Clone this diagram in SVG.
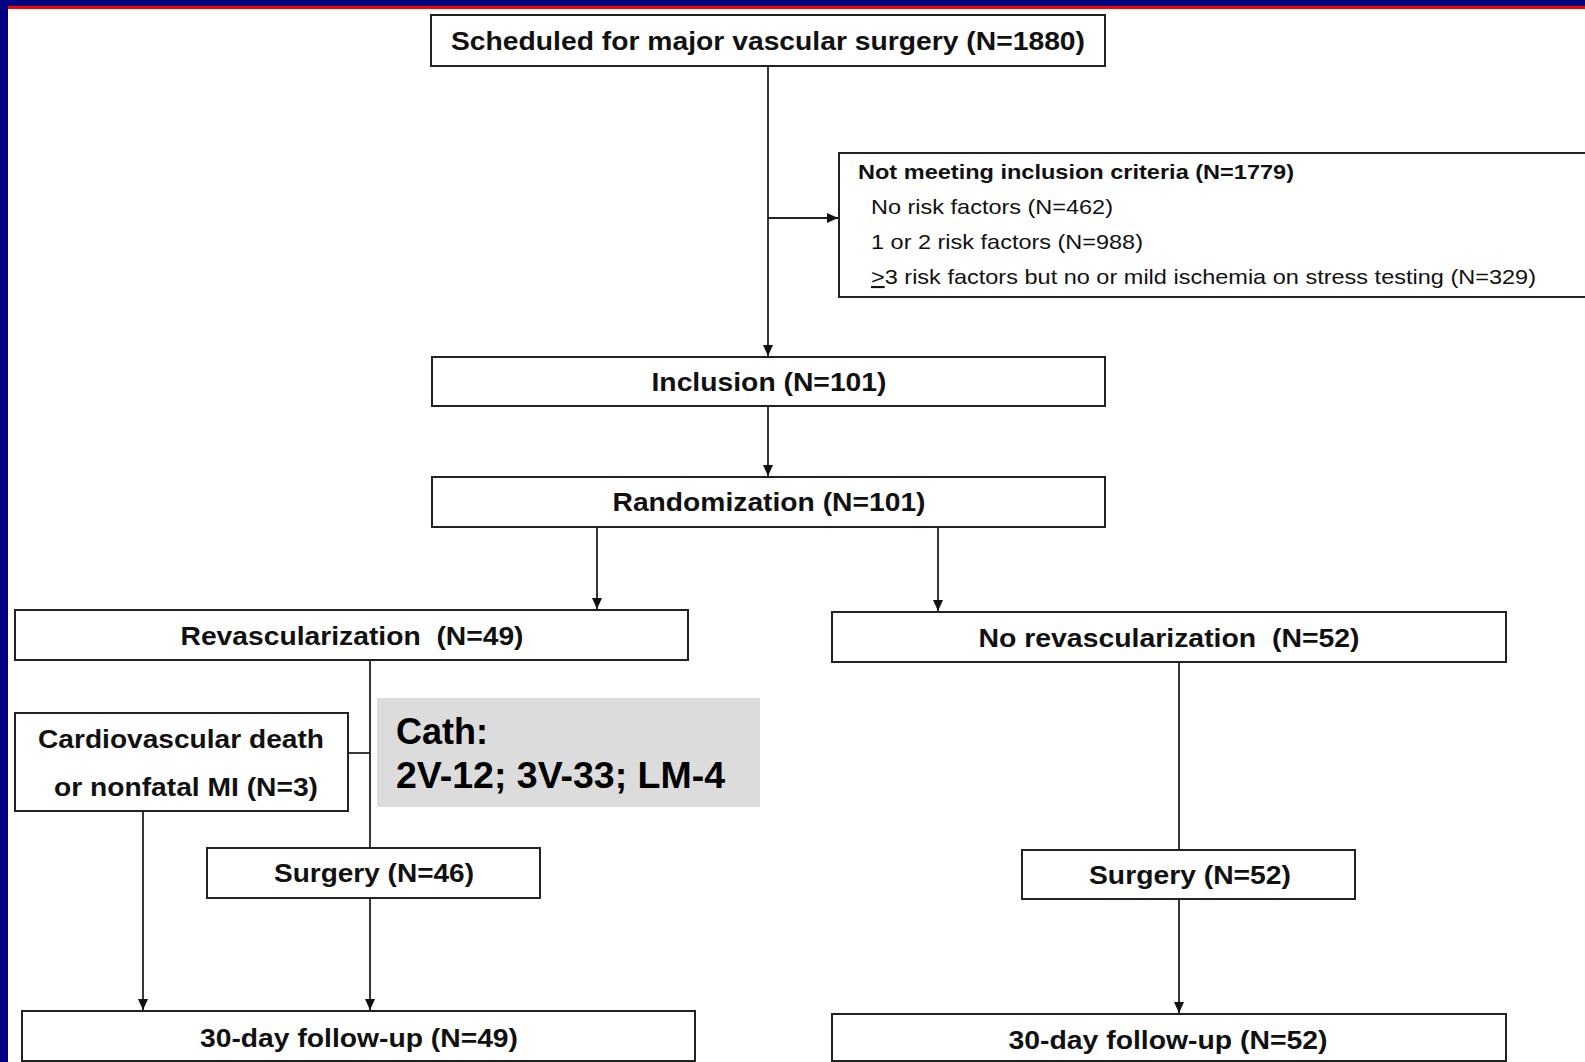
<svg xmlns="http://www.w3.org/2000/svg" width="1585" height="1062" viewBox="0 0 1585 1062">
<style>
.box{fill:#fff;stroke:#222;stroke-width:2}
.t{font-family:"Liberation Sans",Arial,sans-serif;font-weight:bold;font-size:26px;fill:#111;text-anchor:middle}
.s{font-family:"Liberation Sans",Arial,sans-serif;font-size:21px;fill:#111}
.sb{font-weight:bold}
.cath{font-family:"Liberation Sans",Arial,sans-serif;font-weight:bold;font-size:36px;fill:#000}
.ln{stroke:#222;stroke-width:1.8;fill:none}
.arr{marker-end:url(#ah)}
</style>
<defs>
<marker id="ah" viewBox="0 0 12 12" refX="12" refY="6" markerWidth="12" markerHeight="11" markerUnits="userSpaceOnUse" orient="auto">
<path d="M0,0.5 L12,6 L0,11.5 z" fill="#111"/>
</marker>
</defs>
<rect x="0" y="0" width="1585" height="1062" fill="#fff"/>
<rect x="0" y="0" width="1585" height="6" fill="#000080"/>
<rect x="0" y="0" width="8" height="1062" fill="#000080"/>
<rect x="8" y="6" width="1577" height="3" fill="#ff0000"/>

<g id="connectors">
<line class="ln arr" x1="768" y1="66" x2="768" y2="356"/>
<line class="ln arr" x1="768" y1="218" x2="838" y2="218"/>
<line class="ln arr" x1="768" y1="406" x2="768" y2="476"/>
<line class="ln arr" x1="597" y1="527" x2="597" y2="609"/>
<line class="ln arr" x1="938" y1="527" x2="938" y2="611"/>
<line class="ln" x1="370" y1="660" x2="370" y2="848"/>
<line class="ln" x1="348" y1="753" x2="370" y2="753"/>
<line class="ln arr" x1="143" y1="811" x2="143" y2="1010"/>
<line class="ln arr" x1="370" y1="898" x2="370" y2="1010"/>
<line class="ln" x1="1179" y1="662" x2="1179" y2="850"/>
<line class="ln arr" x1="1179" y1="899" x2="1179" y2="1013"/>
</g>

<g id="scheduled">
<rect class="box" x="431" y="15" width="674" height="51"/>
<text class="t" x="768" y="50" textLength="634" lengthAdjust="spacingAndGlyphs">Scheduled for major vascular surgery (N=1880)</text>
</g>

<g id="not-meeting">
<rect class="box" x="839" y="153" width="760" height="144"/>
<text class="s sb" x="858" y="179" textLength="436" lengthAdjust="spacingAndGlyphs">Not meeting inclusion criteria (N=1779)</text>
<text class="s" x="871" y="214" textLength="242" lengthAdjust="spacingAndGlyphs">No risk factors (N=462)</text>
<text class="s" x="871" y="249" textLength="272" lengthAdjust="spacingAndGlyphs">1 or 2 risk factors (N=988)</text>
<text class="s" x="871" y="284" textLength="665" lengthAdjust="spacingAndGlyphs"><tspan text-decoration="underline">&gt;</tspan>3 risk factors but no or mild ischemia on stress testing (N=329)</text>
</g>

<g id="inclusion">
<rect class="box" x="432" y="357" width="673" height="49"/>
<text class="t" x="769" y="391" textLength="235" lengthAdjust="spacingAndGlyphs">Inclusion (N=101)</text>
</g>

<g id="randomization">
<rect class="box" x="432" y="477" width="673" height="50"/>
<text class="t" x="769" y="511" textLength="313" lengthAdjust="spacingAndGlyphs">Randomization (N=101)</text>
</g>

<g id="revasc">
<rect class="box" x="15" y="610" width="673" height="50"/>
<text class="t" x="352" y="645" textLength="343" lengthAdjust="spacingAndGlyphs">Revascularization&#160; (N=49)</text>
</g>

<g id="no-revasc">
<rect class="box" x="832" y="612" width="674" height="50"/>
<text class="t" x="1169" y="647" textLength="381" lengthAdjust="spacingAndGlyphs">No revascularization&#160; (N=52)</text>
</g>

<g id="cv-death">
<rect class="box" x="15" y="713" width="333" height="98"/>
<text class="t" x="181" y="748" textLength="286" lengthAdjust="spacingAndGlyphs">Cardiovascular death</text>
<text class="t" x="186" y="796" textLength="264" lengthAdjust="spacingAndGlyphs">or nonfatal MI (N=3)</text>
</g>

<g id="cath">
<rect x="377" y="698" width="383" height="109" fill="#dcdcdc"/>
<text class="cath" x="396" y="744">Cath:</text>
<text class="cath" x="396" y="788" textLength="329" lengthAdjust="spacingAndGlyphs">2V-12; 3V-33; LM-4</text>
</g>

<g id="surgery-46">
<rect class="box" x="207" y="848" width="333" height="50"/>
<text class="t" x="374" y="882" textLength="200" lengthAdjust="spacingAndGlyphs">Surgery (N=46)</text>
</g>

<g id="surgery-52">
<rect class="box" x="1022" y="850" width="333" height="49"/>
<text class="t" x="1190" y="884" textLength="202" lengthAdjust="spacingAndGlyphs">Surgery (N=52)</text>
</g>

<g id="followup-49">
<rect class="box" x="22" y="1011" width="673" height="50"/>
<text class="t" x="359" y="1047" textLength="318" lengthAdjust="spacingAndGlyphs">30-day follow-up (N=49)</text>
</g>

<g id="followup-52">
<rect class="box" x="832" y="1014" width="674" height="47"/>
<text class="t" x="1168" y="1049" textLength="319" lengthAdjust="spacingAndGlyphs">30-day follow-up (N=52)</text>
</g>
</svg>
